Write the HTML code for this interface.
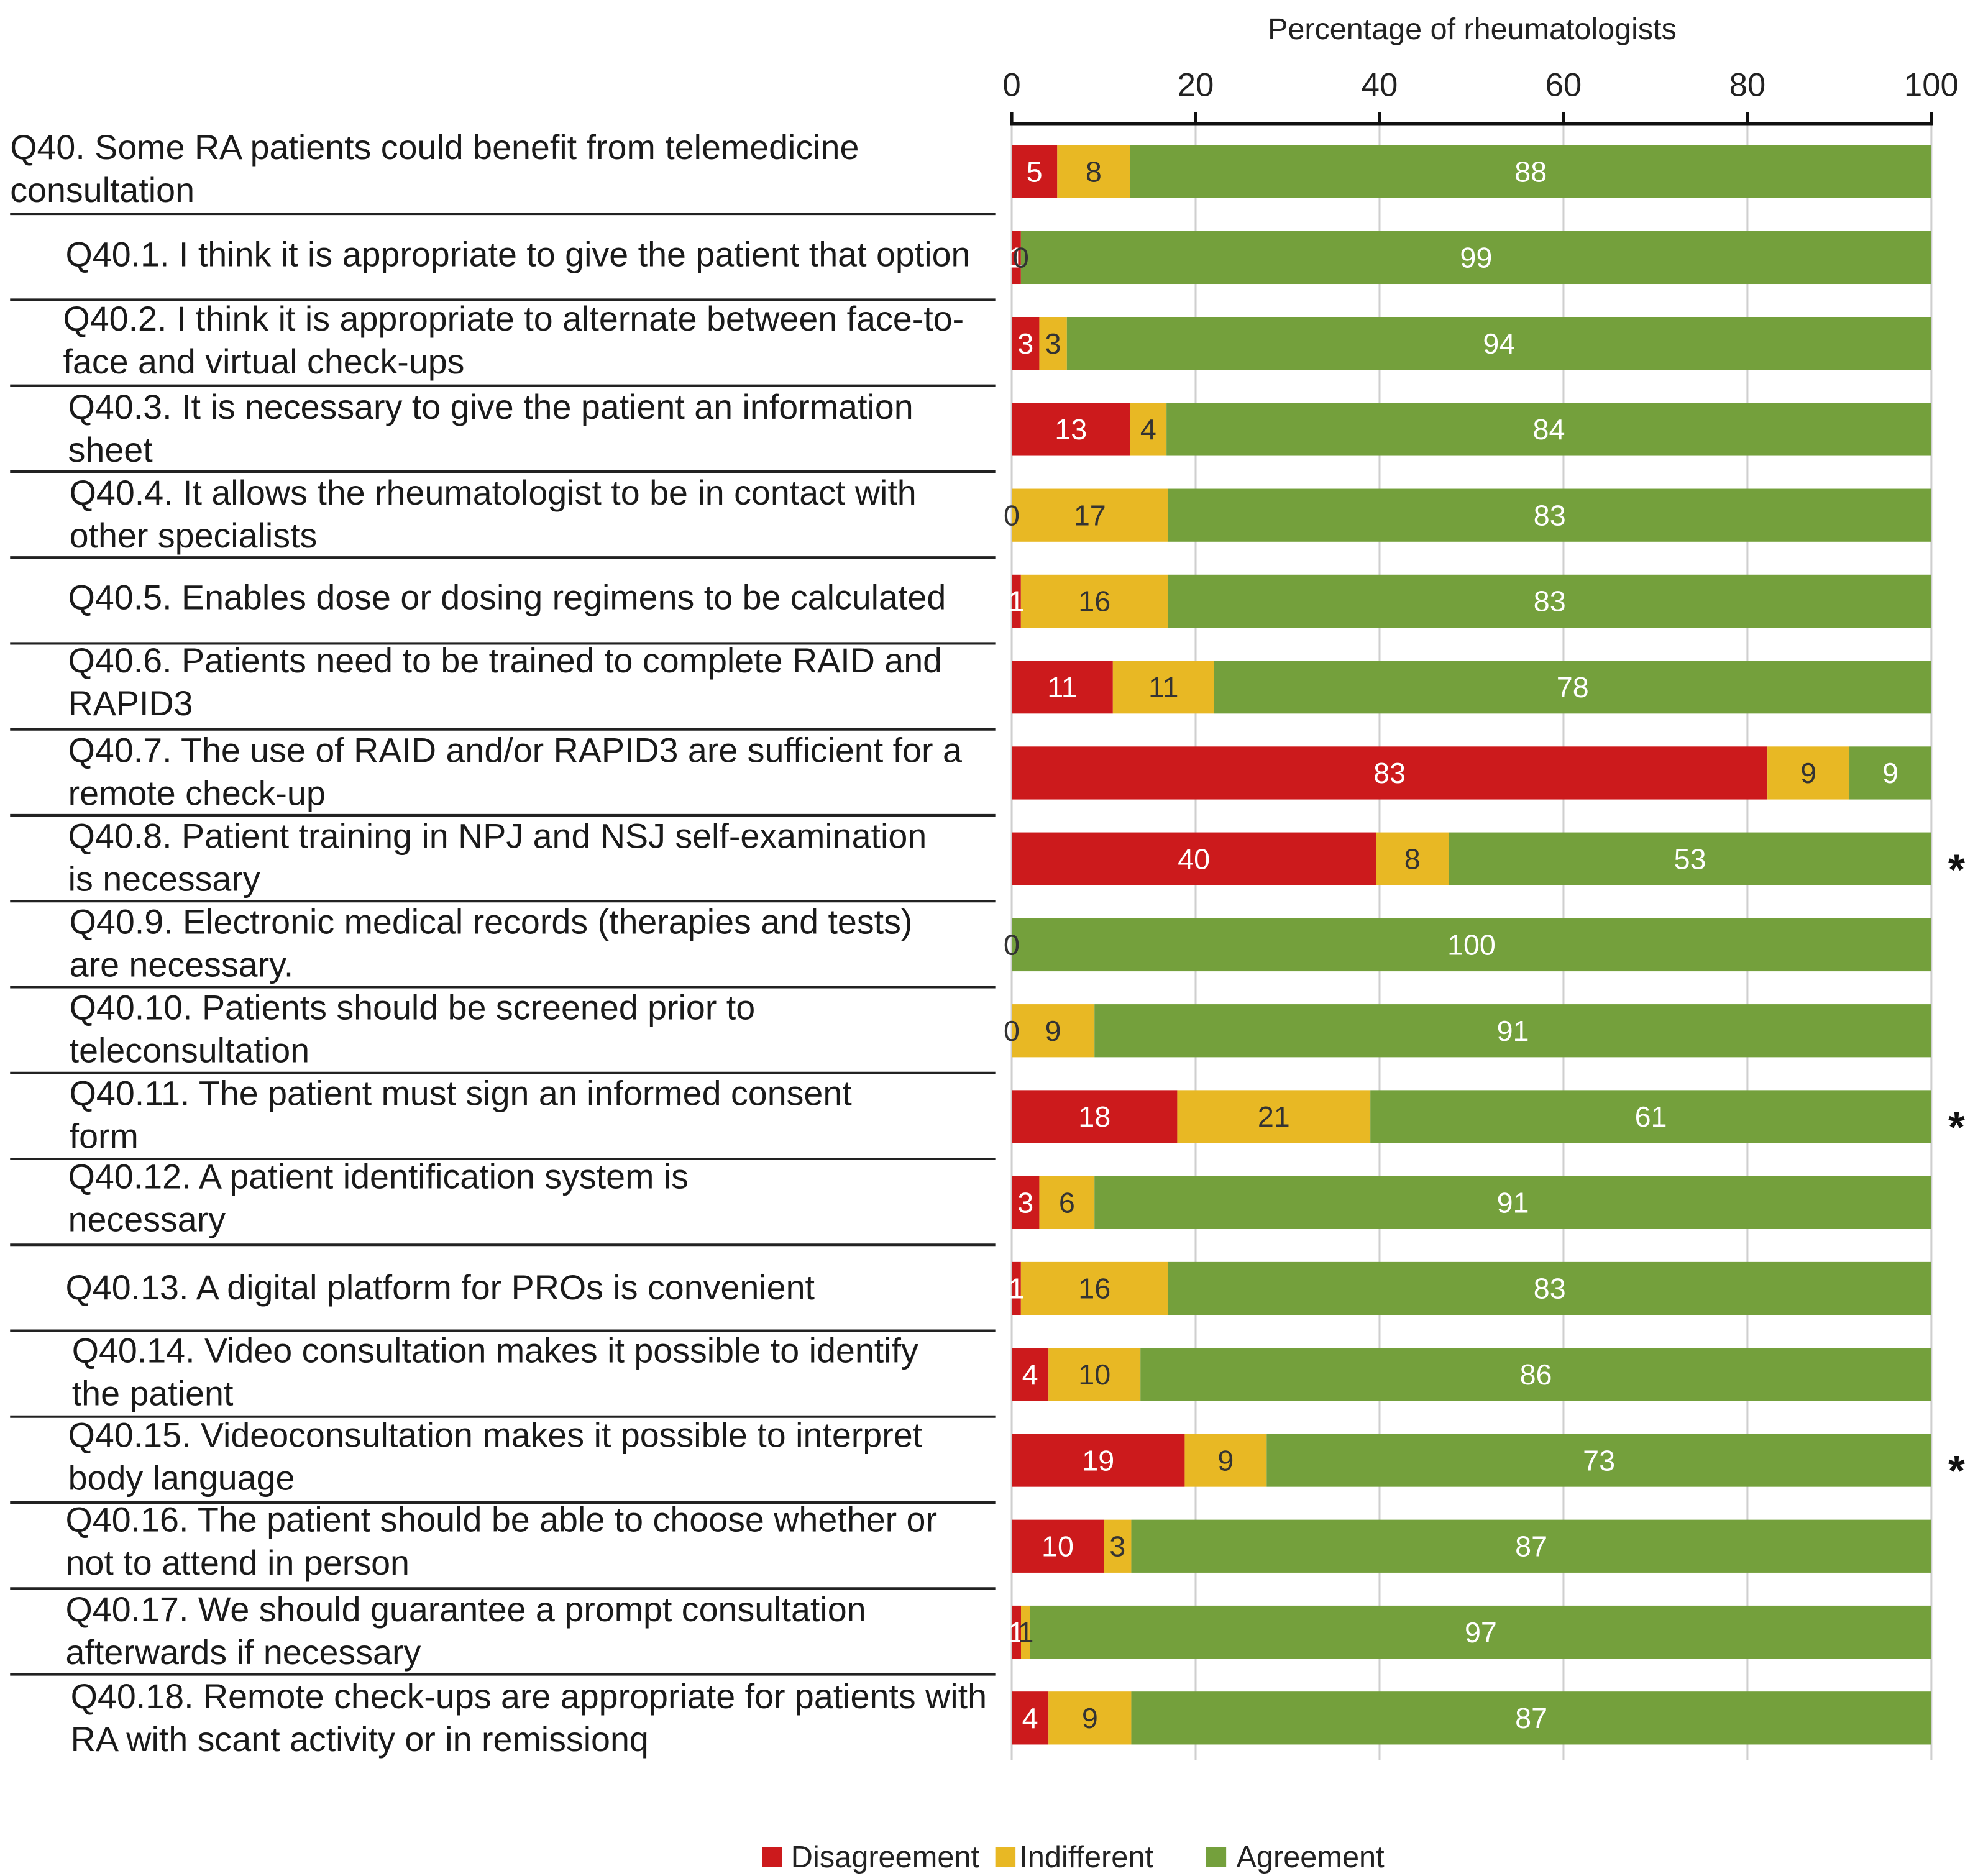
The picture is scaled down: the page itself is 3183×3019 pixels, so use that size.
<!DOCTYPE html>
<html><head><meta charset="utf-8">
<style>
html,body{margin:0;padding:0;background:#fff;}
svg{display:block;font-family:"Liberation Sans",Arial,sans-serif;}
</style></head>
<body>
<svg id="chart" width="3183" height="3019" viewBox="0 0 1568 1487" preserveAspectRatio="none" xmlns="http://www.w3.org/2000/svg">
<text x="1167" y="31" font-size="23.9" text-anchor="middle" fill="#222">Percentage of rheumatologists</text>
<g id="grid"></g>
<g id="axis"></g>
<g id="labels"></g>
<g id="bars"></g>
<g id="legend">
  <rect x="604" y="1464" width="16" height="16" fill="#cc1a1c"/>
  <text x="627" y="1480" font-size="24" fill="#222">Disagreement</text>
  <rect x="789" y="1464" width="16" height="16" fill="#e8b824"/>
  <text x="808" y="1480" font-size="24" fill="#222">Indifferent</text>
  <rect x="956" y="1464" width="16" height="16" fill="#74a03c"/>
  <text x="980" y="1480" font-size="24" fill="#222">Agreement</text>
</g>
</svg>
<script>
const categories = ["Q40","Q40.1","Q40.2","Q40.3","Q40.4","Q40.5","Q40.6","Q40.7","Q40.8","Q40.9","Q40.10","Q40.11","Q40.12","Q40.13","Q40.14","Q40.15","Q40.16","Q40.17","Q40.18"];
const disagreement = [5,1,3,13,0,1,11,83,40,0,0,18,3,1,4,19,10,1,4];
const indifferent  = [8,0,3,4,17,16,11,9,8,0,9,21,6,16,10,9,3,1,9];
const agreement    = [88,99,94,84,83,83,78,9,53,100,91,61,91,83,86,73,87,97,87];
const significant  = [false,false,false,false,false,false,false,false,true,false,false,true,false,false,false,true,false,false,false];
const tickValues = [0,20,40,60,80,100];
const labelLines = [
 ["Q40. Some RA patients could benefit from telemedicine","consultation"],
 ["Q40.1. I think it is appropriate to give the patient that option"],
 ["Q40.2. I think it is appropriate to alternate between face-to-","face and virtual check-ups"],
 ["Q40.3. It is necessary to give the patient an information","sheet"],
 ["Q40.4. It allows the rheumatologist to be in contact with","other specialists"],
 ["Q40.5. Enables dose or dosing regimens to be calculated"],
 ["Q40.6. Patients need to be trained to complete RAID and","RAPID3"],
 ["Q40.7. The use of RAID and/or RAPID3 are sufficient for a","remote check-up"],
 ["Q40.8. Patient training in NPJ and NSJ self-examination","is necessary"],
 ["Q40.9. Electronic medical records (therapies and tests)","are necessary."],
 ["Q40.10. Patients should be screened prior to","teleconsultation"],
 ["Q40.11. The patient must sign an informed consent","form"],
 ["Q40.12. A patient identification system is","necessary"],
 ["Q40.13. A digital platform for PROs is convenient"],
 ["Q40.14. Video consultation makes it possible to identify","the patient"],
 ["Q40.15. Videoconsultation makes it possible to interpret","body language"],
 ["Q40.16. The patient should be able to choose whether or","not to attend in person"],
 ["Q40.17. We should guarantee a prompt consultation","afterwards if necessary"],
 ["Q40.18. Remote check-ups are appropriate for patients with","RA with scant activity or in remissionq"]
];
const labelX = [8,52,50,54,55,54,54,54,54,55,55,55,54,52,57,54,52,52,56];
const firstLineY = [117,202,253,323,391,474,524,595,663,731,799,867,933,1021,1071,1138,1205,1276,1345];

const NS="http://www.w3.org/2000/svg";
const X0=802, X1=1531;
const xScale = v => X0 + (X1-X0)*v/100;
const rowY = i => 136 + i*68.1;
const BH = 42;
function mk(tag, attrs, parent){const e=document.createElementNS(NS,tag);for(const k in attrs)e.setAttribute(k,attrs[k]);parent.appendChild(e);return e;}
const grid=document.getElementById('grid'), axis=document.getElementById('axis'), labels=document.getElementById('labels'), bars=document.getElementById('bars');

tickValues.forEach(t=>{
  const x=xScale(t);
  if(t>0){const g=mk('line',{x1:x,x2:x,y1:99,y2:1395,stroke:'#cfcfcf','stroke-width':1.5},grid);
  
  }
  const tk=mk('line',{x1:x,x2:x,y1:89,y2:99,stroke:'#111','stroke-width':2.5},axis);
  
  
  const tl=mk('text',{x:x,y:76,'font-size':26,'text-anchor':'middle',fill:'#222'},axis);
  tl.textContent=t;
  
  
});
const g0=mk('line',{x1:X0,x2:X0,y1:99,y2:1395,stroke:'#cfcfcf','stroke-width':1.5},grid);


const al=mk('line',{x1:X0-1,x2:X1+1,y1:98,y2:98,stroke:'#111','stroke-width':2.5},axis);



categories.forEach((c,i)=>{
  labelLines[i].forEach((ln,j)=>{
    const t=mk('text',{x:labelX[i],y:firstLineY[i]+9+j*34,'font-size':27.4,fill:'#1a1a1a'},labels);
    t.textContent=ln;
    
    
  });
  if(i<categories.length-1){
    const s=mk('line',{x1:8,x2:789,y1:rowY(i)+33.5,y2:rowY(i)+33.5,stroke:'#222','stroke-width':2},labels);
    
    
  }
  const vals=[disagreement[i],indifferent[i],agreement[i]];
  const tot=vals[0]+vals[1]+vals[2];
  const cols=['#cc1a1c','#e8b824','#74a03c'];
  const tcol=['#fff','#333','#fff'];
  const names=['disagreement','indifferent','agreement'];
  let cum=0;
  const y=rowY(i);
  vals.forEach((v,k)=>{
    const xa=xScale(cum/tot*100), xb=xScale((cum+v)/tot*100);
    const r=mk('rect',{x:xa,y:y-BH/2,width:Math.max(0,xb-xa),height:BH,fill:cols[k]},bars);
    
    
    cum+=v;
  });
  cum=0;
  vals.forEach((v,k)=>{
    if(!(v===0 && k===2)){
      const xa=xScale(cum/tot*100), xb=xScale((cum+v)/tot*100);
      const t=mk('text',{x:(xa+xb)/2,y:y+8,'font-size':23,'text-anchor':'middle',fill:(v===0?'#333':tcol[k])},bars);
      t.textContent=v;
      
      
    }
    cum+=v;
  });
  if(significant[i]){
    const a=mk('text',{x:1551,y:y+20,'font-size':34,'text-anchor':'middle',fill:'#111','font-weight':'bold'},bars);
    a.textContent='*';
    
    
  }
});
</script>
</body></html>
